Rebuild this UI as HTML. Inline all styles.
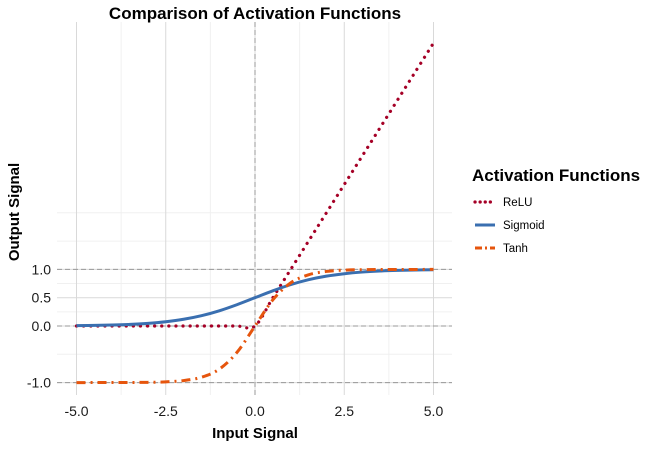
<!DOCTYPE html>
<html><head><meta charset="utf-8"><style>
body{margin:0;background:#fff;font-family:"Liberation Sans",sans-serif}
svg text{font-family:"Liberation Sans",sans-serif}
</style></head><body>
<svg id="c" width="672" height="447">
<rect width="672" height="447" fill="#fff"/>
<g id="grid"></g><g id="ref"></g><g id="series"></g><g id="axes"></g>
<text x="255" y="19" font-size="17" font-weight="bold" text-anchor="middle">Comparison of Activation Functions</text>
<text x="255" y="438" font-size="15" font-weight="bold" text-anchor="middle">Input Signal</text>
<text transform="translate(19,212) rotate(-90)" font-size="15" font-weight="bold" text-anchor="middle">Output Signal</text>
<g>
<text x="472" y="181" font-size="17" font-weight="bold">Activation Functions</text>
<g><line x1="475" y1="202" x2="495" y2="202" stroke="#a50026" stroke-width="3.2" stroke-dasharray="0.1 5" stroke-linecap="round"/><text x="503" y="206" font-size="11.5">ReLU</text></g>
<g><line x1="475" y1="225" x2="495" y2="225" stroke="#3a6fb0" stroke-width="3"/><text x="503" y="229" font-size="11.5">Sigmoid</text></g>
<g><line x1="475" y1="248" x2="495" y2="248" stroke="#e6550d" stroke-width="3" stroke-dasharray="7 3 2 3"/><text x="503" y="252" font-size="11.5">Tanh</text></g>
</g>
</svg>
<script>
const xs=[-5,-4.5,-4,-3.5,-3,-2.5,-2,-1.5,-1,-0.5,0,0.5,1,1.5,2,2.5,3,3.5,4,4.5,5];
const relu=[0,0,0,0,0,0,0,0,0,0,0,0.5,1,1.5,2,2.5,3,3.5,4,4.5,5];
const sigmoid=[.007,.011,.018,.029,.047,.076,.119,.182,.269,.378,.5,.622,.731,.818,.881,.924,.953,.971,.982,.989,.993];
const tanh=[-1,-.999,-.999,-.998,-.995,-.987,-.964,-.905,-.762,-.462,0,.462,.762,.905,.964,.987,.995,.998,.999,.999,1];
const xTicks=[-5,-2.5,0,2.5,5];
const xTickLabels=["-5.0","-2.5","0.0","2.5","5.0"];
const yTicks=[-1,0,0.5,1];
const yTickLabels=["-1.0","0.0","0.5","1.0"];
const xMinor=[-3.75,-1.25,1.25,3.75];
const yMinor=[-0.5,0.25,0.75,1.5,2];
const refY=[-1,0,1];
const X=v=>255+v*35.7, Y=v=>326-v*56.6;
const NS="http://www.w3.org/2000/svg";
function mk(p,t,a){const e=document.createElementNS(NS,t);for(const k in a)e.setAttribute(k,a[k]);p.appendChild(e);return e;}
const grid=document.getElementById('grid'),ref=document.getElementById('ref'),ser=document.getElementById('series'),ax=document.getElementById('axes');
xMinor.forEach(v=>{const l=mk(grid,'line',{x1:X(v),x2:X(v),y1:22,y2:395,stroke:'#f0f0f0','stroke-width':1});

});
yMinor.forEach(v=>{const l=mk(grid,'line',{x1:57,x2:452,y1:Y(v),y2:Y(v),stroke:'#f0f0f0','stroke-width':1});

});
xTicks.forEach((v,i)=>{const l=mk(grid,'line',{x1:X(v),x2:X(v),y1:22,y2:395,stroke:'#d9d9d9','stroke-width':1});


const t=mk(ax,'text',{x:X(v),y:416,'font-size':14,'text-anchor':'middle',fill:'#1a1a1a'});t.textContent=xTickLabels[i];

});
yTicks.forEach((v,i)=>{const l=mk(grid,'line',{x1:57,x2:452,y1:Y(v),y2:Y(v),stroke:'#d9d9d9','stroke-width':1});


const t=mk(ax,'text',{x:51,y:Y(v)+5,'font-size':14,'text-anchor':'end',fill:'#1a1a1a'});t.textContent=yTickLabels[i];

});
refY.forEach(v=>{const l=mk(ref,'line',{x1:57,x2:452,y1:Y(v),y2:Y(v),stroke:'#999','stroke-width':1,'stroke-dasharray':'5 3'});

});
const vl=mk(ref,'line',{x1:X(0),x2:X(0),y1:22,y2:395,stroke:'#999','stroke-width':1,'stroke-dasharray':'5 3'});


function path(ys){const p=xs.map((x,i)=>[X(x),Y(ys[i])]);let d='M'+p[0][0]+','+p[0][1];
for(let i=0;i<p.length-1;i++){const p0=p[Math.max(0,i-1)],p1=p[i],p2=p[i+1],p3=p[Math.min(p.length-1,i+2)];
d+=' C'+(p1[0]+(p2[0]-p0[0])/6)+','+(p1[1]+(p2[1]-p0[1])/6)+' '+(p2[0]-(p3[0]-p1[0])/6)+','+(p2[1]-(p3[1]-p1[1])/6)+' '+p2[0]+','+p2[1];}return d;}
const r=mk(ser,'path',{d:path(relu),fill:'none',stroke:'#a50026','stroke-width':3.2,'stroke-dasharray':'0.1 7','stroke-linecap':'round'});


const s=mk(ser,'path',{d:path(sigmoid),fill:'none',stroke:'#3a6fb0','stroke-width':3});


const t=mk(ser,'path',{d:path(tanh),fill:'none',stroke:'#e6550d','stroke-width':3,'stroke-dasharray':'9 5 2 5'});


</script>
</body></html>
